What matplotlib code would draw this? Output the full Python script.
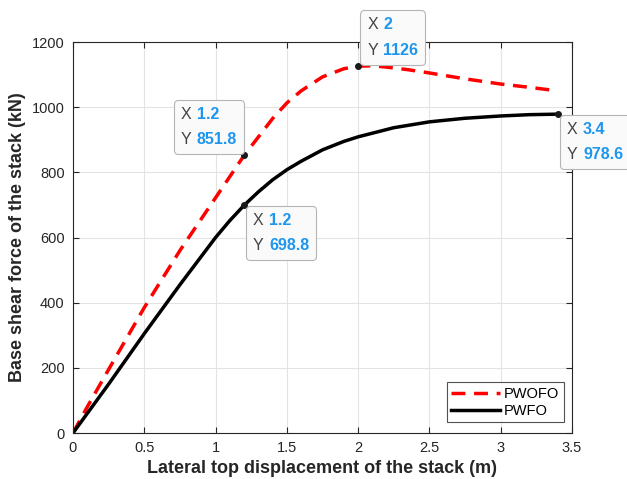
import matplotlib.pyplot as plt
from matplotlib.offsetbox import TextArea, HPacker, VPacker, AnnotationBbox

plt.rcParams['font.family'] = ['Liberation Sans', 'DejaVu Sans']

x_wofo = [0, 0.1, 0.25, 0.5, 0.75, 1.0, 1.2, 1.4, 1.5, 1.6, 1.75, 1.9, 2.0, 2.1, 2.2,
          2.35, 2.5, 2.75, 3.0, 3.2, 3.4]
y_wofo = [0, 80, 195, 385, 560, 722, 851.8, 965, 1013, 1050, 1093, 1118, 1126, 1127,
          1123, 1115, 1105, 1087, 1071, 1061, 1050]

x_wfo = [0, 0.25, 0.5, 0.75, 1.0, 1.1, 1.2, 1.3, 1.4, 1.5, 1.6, 1.75, 1.9, 2.0, 2.25,
         2.5, 2.75, 3.0, 3.2, 3.4]
y_wfo = [0, 150, 305, 455, 600, 652, 698.8, 740, 777, 808, 834, 869, 895, 909, 937,
         955, 966, 973, 977, 978.6]

tips_x = [1.2, 2, 3.4, 1.2]
tips_y = [851.8, 1126, 978.6, 698.8]
tips_lbl = ['1.2', '2', '3.4', '1.2']
tips_val = ['851.8', '1126', '978.6', '698.8']
tips_align = [(1, 0), (0, 0), (0, 1), (0, 1)]

fig = plt.figure(figsize=(6.27, 4.79), dpi=100)
ax = fig.add_axes([0.1164, 0.096, 0.7959, 0.8163])

ax.plot(x_wofo, y_wofo, color='red', ls=(0, (4, 2.5)), lw=2.5, label='PWOFO')
ax.plot(x_wfo, y_wfo, color='black', lw=2.5, label='PWFO')

ax.set_xlim(0, 3.5)
ax.set_ylim(0, 1200)
ax.set_xticks([0, 0.5, 1, 1.5, 2, 2.5, 3, 3.5])
ax.set_xticklabels(['0', '0.5', '1', '1.5', '2', '2.5', '3', '3.5'])
ax.set_yticks(range(0, 1201, 200))
ax.grid(True, color='#e3e3e3', lw=0.8)
ax.set_axisbelow(True)
ax.tick_params(direction='in', top=True, right=True, labelsize=10.5,
               labelcolor='#262626', color='#262626', length=4, pad=6)
for s in ax.spines.values():
    s.set_color('#262626')
    s.set_linewidth(0.8)

ax.set_xlabel('Lateral top displacement of the stack (m)', fontsize=13,
              fontweight='bold', color='#262626', labelpad=3)
ax.set_ylabel('Base shear force of the stack (kN)', fontsize=13,
              fontweight='bold', color='#262626', labelpad=4)

leg = ax.legend(loc='lower right', bbox_to_anchor=(0.983, 0.028), borderaxespad=0,
                fontsize=10.5, frameon=True, fancybox=False, edgecolor='#262626',
                handlelength=3.3, handletextpad=0.3, borderpad=0.3, labelspacing=0.2)
leg.get_frame().set_linewidth(0.8)

# data tips
blue = '#1e96ee'
pad_pt = 5
for tx, ty, lbl, val, al in zip(tips_x, tips_y, tips_lbl, tips_val, tips_align):
    ax.plot(tx, ty, 'o', color='#1a1a1a', ms=4, zorder=5)
    r1 = HPacker(children=[TextArea('X', textprops=dict(color='#444444', size=11.5)),
                           TextArea(lbl, textprops=dict(color=blue, size=11.5, weight='bold'))],
                 pad=0, sep=4)
    r2 = HPacker(children=[TextArea('Y', textprops=dict(color='#444444', size=11.5)),
                           TextArea(val, textprops=dict(color=blue, size=11.5, weight='bold'))],
                 pad=0, sep=4)
    box = VPacker(children=[r1, r2], pad=0, sep=7.5)
    dx = pad_pt + 1.5 if al[0] == 0 else -pad_pt
    dy = -pad_pt - 0.5 if al[1] == 1 else pad_pt + 1
    ab = AnnotationBbox(box, (tx, ty), xybox=(dx, dy), xycoords='data',
                        boxcoords='offset points', box_alignment=al,
                        annotation_clip=False, zorder=6,
                        bboxprops=dict(boxstyle='round,pad=0.5,rounding_size=0.3',
                                       fc='#fafafa', ec='#b5b5b5', lw=0.8))
    ax.add_artist(ab)

fig.savefig('out.png', dpi=100)
